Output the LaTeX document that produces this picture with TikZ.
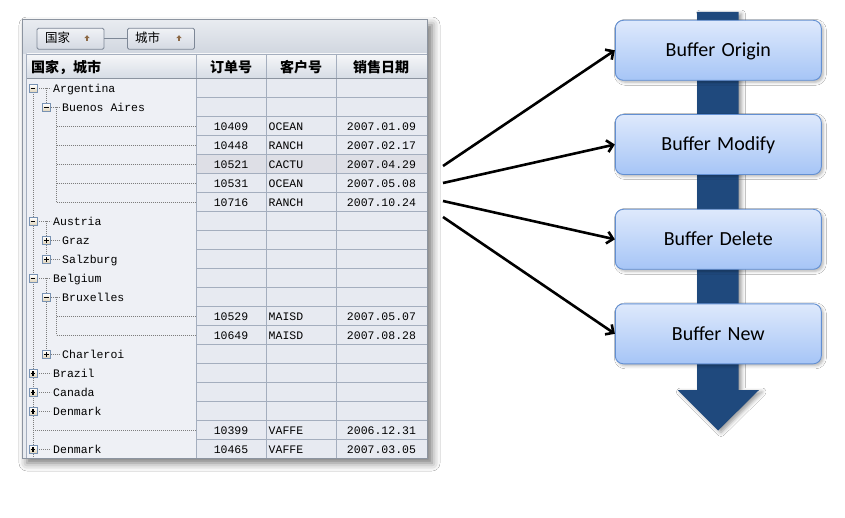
\documentclass[tikz,border=0pt]{standalone}
\usepackage{fontspec}
\setmainfont{Liberation Serif}
\newfontfamily\cjk{Noto Sans CJK SC}
\newfontfamily\monof{Liberation Mono}
\newfontfamily\boxfont[WordSpace=1.4]{Carlito}
\usetikzlibrary{arrows.meta,shadows.blur}
\definecolor{tbtop}{RGB}{232,235,240}
\definecolor{tbbot}{RGB}{208,214,223}
\definecolor{hdtop}{RGB}{246,247,249}
\definecolor{hdbot}{RGB}{214,220,229}
\definecolor{treebg}{RGB}{238,240,245}
\definecolor{cellbg}{RGB}{231,234,241}
\definecolor{selbg}{RGB}{222,223,230}
\definecolor{gridc}{RGB}{164,174,190}
\definecolor{framec}{RGB}{140,148,160}
\definecolor{stripc}{RGB}{232,235,240}
\definecolor{dotc}{RGB}{125,125,125}
\definecolor{iconb}{RGB}{120,146,178}
\definecolor{icontan}{RGB}{222,210,182}
\definecolor{arrc}{RGB}{140,105,70}
\definecolor{barblue}{RGB}{31,73,125}
\definecolor{boxtop}{RGB}{222,233,252}
\definecolor{boxbot}{RGB}{166,197,246}
\definecolor{boxline}{RGB}{98,143,210}
\definecolor{btntop}{RGB}{240,242,246}
\definecolor{btnbot}{RGB}{212,217,226}
\definecolor{btnline}{RGB}{125,135,150}
\tikzset{
  grid/.style={draw=gridc,line width=0.9pt},
  treeline/.style={draw=dotc,line width=0.8pt,dash pattern=on 0.8pt off 1.2pt},
  monotext/.style={inner sep=0pt,font=\monof\fontsize{11.5}{13}\selectfont},
  hdtext/.style={inner sep=0pt,font=\cjk\bfseries\fontsize{14}{16}\selectfont},
  btntext/.style={inner sep=0pt,font=\cjk\fontsize{12.5}{14}\selectfont},
  btn/.style={draw=btnline,line width=0.8pt,rounded corners=1.5pt,top color=btntop,bottom color=btnbot,minimum width=67pt,minimum height=21pt,inner sep=0pt},
  bufbox/.style={draw=boxline,line width=0.9pt,rounded corners=8pt,top color=boxtop,bottom color=boxbot,
    minimum width=206pt,minimum height=60pt,inner sep=0pt,text height=12.9pt,text depth=0pt,
    font=\boxfont\fontsize{20}{24}\selectfont,
    blur shadow={shadow xshift=2pt,shadow yshift=-2pt,shadow blur radius=3pt,shadow opacity=30}},
  arr/.style={draw=black,line width=2.6pt,-{Straight Barb[length=6pt,width=12pt]}},
  expm/.pic={\draw[iconb,line width=0.7pt,top color=white,bottom color=icontan] (-4,-4) rectangle (4,4);
             \draw[black,line width=1.1pt] (-2.3,0) -- (2.3,0);},
  expp/.pic={\draw[iconb,line width=0.7pt,top color=white,bottom color=icontan] (-4,-4) rectangle (4,4);
             \draw[black,line width=1.1pt] (-2.3,0) -- (2.3,0) (0,-2.3) -- (0,2.3);},
}
\begin{document}
\begin{tikzpicture}[x=1pt,y=-1pt]
\useasboundingbox (0,0) rectangle (845,518);
\fill[white] (0,0) rectangle (845,518);
% ---------- table ----------
\fill[stripc,blur shadow={shadow xshift=5pt,shadow yshift=-5pt,shadow blur radius=8pt,shadow opacity=55}] (22,20) rectangle (427,458);
\shade[top color=tbtop,bottom color=tbbot] (22.5,20.5) rectangle (426.5,54);
\fill[treebg] (27,78.5) rectangle (196,458);
\fill[cellbg] (196,78.5) rectangle (426.5,458);
\fill[selbg] (196,154.5) rectangle (426.5,173.5);
\shade[top color=hdtop,bottom color=hdbot] (27,54) rectangle (426.5,78.5);
\foreach \k in {1,...,19} {\draw[grid] (196,78.5+19*\k) -- (426.5,78.5+19*\k);}
\foreach \xx in {196,266,336} {\draw[grid] (\xx,54) -- (\xx,458);}
\draw[grid] (26.5,54) -- (26.5,458);
\draw[draw=gridc,line width=0.9pt] (27,54) -- (426.5,54);
\draw[draw=framec,line width=1pt] (27,78.5) -- (426.5,78.5);
\draw[draw=framec,line width=1pt] (22,20) rectangle (427,458);
% header texts
\node[hdtext,anchor=base west] (h1) at (31,72.5) {国家，城市};
\node[hdtext,anchor=base] (h2) at (231,72.5) {订单号};
\node[hdtext,anchor=base] (h3) at (301,72.5) {客户号};
\node[hdtext,anchor=base] (h4) at (381,72.5) {销售日期};
% toolbar buttons
\node[btn] (b1) at (70.5,38.8) {};
\node[btn] (b2) at (161,38.8) {};
\draw[draw=btnline,line width=0.8pt] (b1) -- (b2);
\node[btntext,anchor=base west] (bt1) at (45,43) {国家};
\node[btntext,anchor=base west] (bt2) at (135,43) {城市};
\foreach \ax in {87,179} {
  \fill[arrc] (\ax-2.7,38.2) -- (\ax,35.2) -- (\ax+2.7,38.2) -- cycle;
  \draw[arrc,line width=1.3pt] (\ax,37.5) -- (\ax,41.5);
}
% ---------- tree lines ----------
\draw[treeline] (33,92) -- (33,458);
\draw[treeline] (46.5,88) -- (46.5,107);
\draw[treeline] (46.5,221) -- (46.5,259);
\draw[treeline] (46.5,278) -- (46.5,354);
\draw[treeline] (56.5,107) -- (56.5,202);
\draw[treeline] (56.5,297) -- (56.5,335);
\foreach \k in {0,7,10,15,16,17,19} {\draw[treeline] (37,88+19*\k) -- (51,88+19*\k);}
\foreach \k in {1,8,9,11,14} {\draw[treeline] (50.5,88+19*\k) -- (60,88+19*\k);}
\foreach \k in {2,3,4,5,6,12,13} {\draw[treeline] (56.5,88+19*\k) -- (196,88+19*\k);}
\draw[treeline] (33,430) -- (196,430);
% icons
\foreach \k/\ic in {0/expm,7/expm,10/expm,15/expp,16/expp,17/expp,19/expp} {\pic at (33,88.5+19*\k) {\ic};}
\foreach \k/\ic in {1/expm,8/expp,9/expp,11/expm,14/expp} {\pic at (46.5,88.5+19*\k) {\ic};}
% tree texts
\foreach \k/\tx in {0/Argentina,7/Austria,10/Belgium,15/Brazil,16/Canada,17/Denmark,19/Denmark} {
  \node[monotext,anchor=base west] (t\k) at (53,92.5+19*\k) {\tx};}
\foreach \k/\tx in {1/Buenos Aires,8/Graz,9/Salzburg,11/Bruxelles,14/Charleroi} {
  \node[monotext,anchor=base west] (t\k) at (62,92.5+19*\k) {\tx};}
% data texts
\foreach \k/\on/\cu/\dt in {2/10409/OCEAN/2007.01.09,3/10448/RANCH/2007.02.17,4/10521/CACTU/2007.04.29,
  5/10531/OCEAN/2007.05.08,6/10716/RANCH/2007.10.24,12/10529/MAISD/2007.05.07,13/10649/MAISD/2007.08.28,
  18/10399/VAFFE/2006.12.31,19/10465/VAFFE/2007.03.05} {
  \node[monotext,anchor=base] (o\k) at (231,92.5+19*\k) {\on};
  \node[monotext,anchor=base west] (c\k) at (268.5,92.5+19*\k) {\cu};
  \node[monotext,anchor=base] (d\k) at (381.5,92.5+19*\k) {\dt};
}
% ---------- right side ----------
\fill[barblue,blur shadow={shadow xshift=3pt,shadow yshift=-2pt,shadow blur radius=4pt,shadow opacity=40}]
  (697,12) -- (738.5,12) -- (738.5,390) -- (759,390) -- (718,430.5) -- (677.5,390) -- (697,390) -- cycle;
\node[bufbox] (bo) at (718.3,50.3) {Buffer Origin};
\node[bufbox] (bm) at (718.3,144.5) {Buffer Modify};
\node[bufbox] (bd) at (718.3,239.3) {Buffer Delete};
\node[bufbox] (bn) at (718.3,333.8) {Buffer New};
\coordinate (s1) at (443,166);
\coordinate (s2) at (443,183);
\coordinate (s3) at (443,201);
\coordinate (s4) at (443,217);
\draw[arr] (s1) -- (bo.west);
\draw[arr] (s2) -- (bm.west);
\draw[arr] (s3) -- (bd.west);
\draw[arr] (s4) -- (bn.west);
\end{tikzpicture}
\end{document}
